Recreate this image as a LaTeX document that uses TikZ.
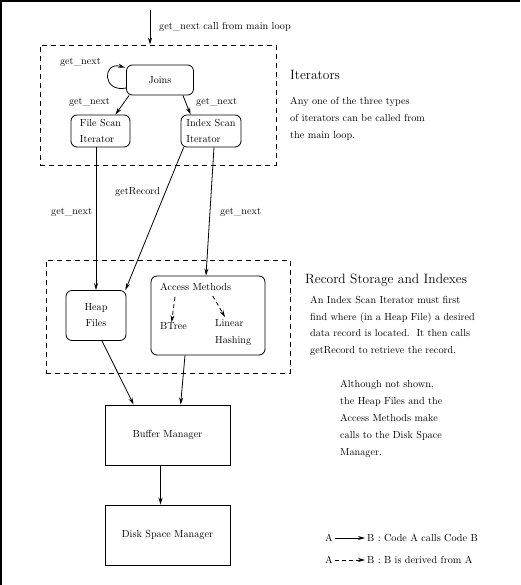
\documentclass[tikz,border=0pt]{standalone}
\usetikzlibrary{arrows.meta,calc}
\begin{document}
\begin{tikzpicture}[x=1pt,y=-1pt,
  every node/.style={font=\fontsize{10.2}{16}\selectfont, inner sep=0pt},
  rbox/.style={draw, rounded corners=6pt, line width=0.8pt},
  sbox/.style={draw, line width=0.8pt, minimum width=125pt, minimum height=60pt},
  arr/.style={line width=0.8pt, -{Stealth[length=7pt,width=4pt]}},
  darr/.style={arr, dash pattern=on 4pt off 3pt},
  grp/.style={draw, line width=0.8pt, dash pattern=on 5pt off 4pt},
  title/.style={font=\fontsize{13.5}{16}\selectfont, anchor=west},
  lbl/.style={anchor=west},
  para/.style={anchor=north west, align=left, font=\fontsize{10.2}{17}\selectfont},
]
\useasboundingbox (0,0) rectangle (520,585);
\draw[line width=4pt] (0,585) -- (0,0) -- (520,0);

% groups
\node[grp, minimum width=236, minimum height=120] (g1) at (158,105) {};
\node[grp, minimum width=244, minimum height=113] (g2) at (168,316.5) {};

% entry
\coordinate (entry) at (150,10);
\draw[arr] (entry) -- (entry |- g1.north);
\node[lbl] (entrylbl) at (159,27) {get\_next call from main loop};

% iterators
\node[rbox, minimum width=67, minimum height=30] (joins) at (160,80) {Joins};
\node[rbox, minimum width=59, minimum height=32, align=left] (fs) at (100.5,131) {File Scan\\Iterator};
\node[rbox, minimum width=60, minimum height=32, align=left] (is) at (211,131) {Index Scan\\Iterator};

\draw[arr] ($(joins.west)+(0,8)$) .. controls ($(joins.west)+(-24,13)$) and ($(joins.west)+(-24,-19)$) .. ($(joins.north west)+(-1,3)$);
\node[anchor=east] (l0) at (101,62) {get\_next};
\draw[arr] ($(joins.south west)+(3,0)$) -- ($(fs.north east)+(-15,0)$);
\draw[arr] ($(joins.south east)+(-11,0)$) -- ($(is.north west)+(10,0)$);
\node[anchor=east] (l1) at (110,102) {get\_next};
\node[lbl] (l2) at (196,102) {get\_next};

\node[title] (ittitle) at (290,75) {Iterators};
\node[para] (ittext) at (290,97) {Any one of the three types\\of iterators can be called from\\the main loop.};

% storage
\node[rbox, minimum width=60, minimum height=50, align=center] (heap) at (96,315.5) {Heap\\Files};
\node[rbox, minimum width=114, minimum height=79] (am) at (208,315.5) {};
\node[lbl] (amt) at (160,287) {Access Methods};
\node[lbl] (bt) at (160,326) {BTree};
\node[para] (lh) at (215,319) {Linear\\Hashing};
\draw[darr] ($(amt.south west)+(15,6)$) -- ($(bt.north)+(-2,0)$);
\draw[darr] ($(amt.south)+(17,5)$) -- ($(lh.north west)+(10,-2)$);

\draw[arr] (fs.south -| heap) -- (heap.north);
\draw[arr] ($(is.south west)+(3,0)$) -- ($(heap.north east)+(-1,0)$);
\draw[arr] ($(is.south)+(3,0)$) -- ($(am.north)+(-2,0)$);
\node[lbl] (l3) at (51,212) {get\_next};
\node[lbl] (l4) at (115,192) {getRecord};
\node[lbl] (l5) at (220,212) {get\_next};

\node[title] (rstitle) at (305,280) {Record Storage and Indexes};
\node[para, font=\fontsize{10.2}{16.5}\selectfont] (rstext) at (310,296) {An Index Scan Iterator must first\\find where (in a Heap File) a desired\\data record is located.\ \ It then calls\\getRecord to retrieve the record.};
\node[para] (note) at (340,380) {Although not shown,\\the Heap Files and the\\Access Methods make\\calls to the Disk Space\\Manager.};

% managers
\node[sbox] (buf) at (167.5,435) {Buffer Manager};
\node[sbox] (disk) at (167.5,535) {Disk Space Manager};
\draw[arr] ($(heap.south)+(6,0)$) -- ($(buf.north west)+(29,0)$);
\draw[arr] ($(am.south)+(-23,0)$) -- ($(buf.north west)+(76,0)$);
\draw[arr] ($(buf.south)+(-7,0)$) -- ($(disk.north)+(-7,0)$);

% legend
\node[lbl] (la1) at (325,538) {A};
\node[lbl] (lb1) at (367,538) {B : Code A calls Code B};
\draw[arr] ([xshift=2pt]la1.east) -- ([xshift=-2pt]lb1.west);
\node[lbl] (la2) at (325,560) {A};
\node[lbl] (lb2) at (367,560) {B : B is derived from A};
\draw[darr] ([xshift=2pt]la2.east) -- ([xshift=-2pt]lb2.west);
\end{tikzpicture}
\end{document}
